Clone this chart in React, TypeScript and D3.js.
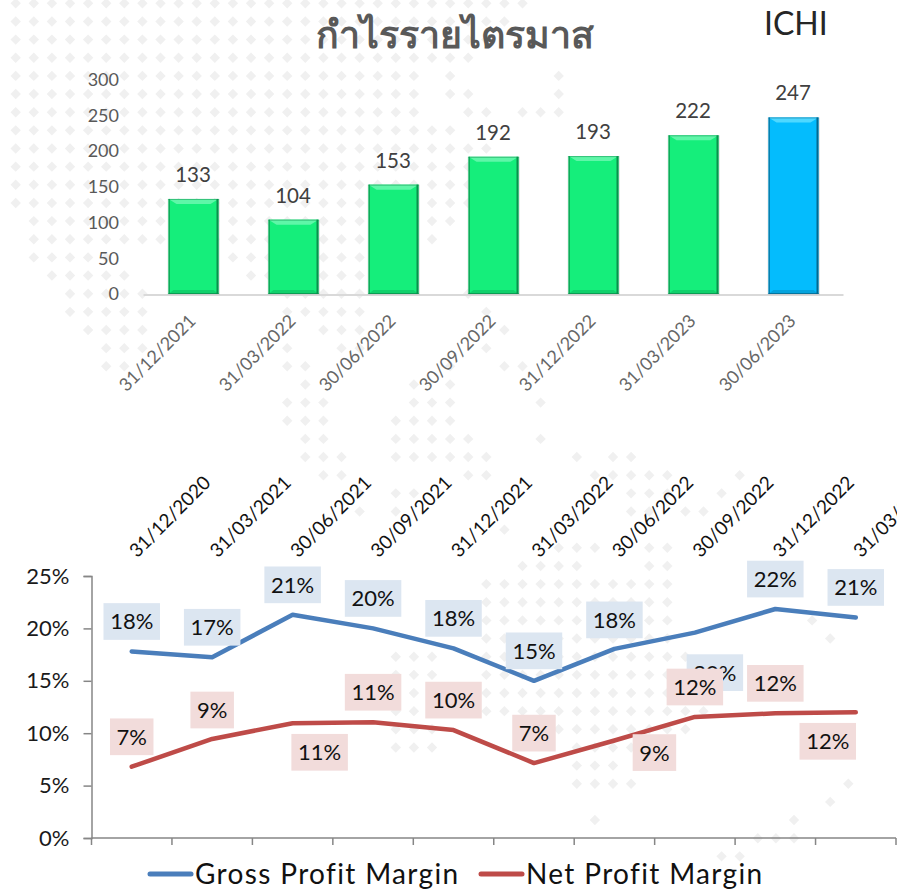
import * as d3 from "d3";
import { useEffect, useRef } from "react";

const quarters = ["31/12/2021", "31/03/2022", "30/06/2022", "30/09/2022", "31/12/2022", "31/03/2023", "30/06/2023"];
const profit = [133, 104, 153, 192, 193, 222, 247];

const marginDates = ["31/12/2020", "31/03/2021", "30/06/2021", "30/09/2021", "31/12/2021", "31/03/2022", "30/06/2022", "30/09/2022", "31/12/2022", "31/03/2023"];
const grossMargin = [17.8, 17.25, 21.3, 20.0, 18.1, 15.0, 18.05, 19.6, 21.85, 21.05];
const netMargin = [6.8, 9.45, 10.95, 11.05, 10.3, 7.15, 9.3, 11.55, 11.9, 12.0];

// hand-dragged data labels in the original, offset from their point
const grossLabelOffset = [[0, -30], [0, -30], [0, -30], [0, -30], [0, -30], [0, -30], [0, -29], [20, 40], [0, -30], [0, -30]];
const netLabelOffset = [[0, -30], [0, -29], [27, 29], [0, -30], [0, -30], [0, -30], [40, 12], [0, -30], [0, -30], [-28, 29]];

// background dot map: [row, first col, last col]
const dotRows = [
  [0, 0, 28], [1, 0, 27], [2, 0, 26], [3, 0, 25], [4, 0, 22], [4, 24, 24], [4, 30, 30],
  [5, 0, 22], [5, 24, 25], [5, 30, 30], [6, 0, 22], [6, 25, 26], [6, 28, 30],
  [7, 0, 24], [8, 0, 26], [9, 0, 26], [10, 0, 25], [11, 0, 25], [12, 1, 24], [13, 1, 23],
  [14, 1, 5], [14, 12, 19], [15, 2, 6], [15, 13, 19], [16, 3, 7], [16, 15, 19], [16, 25, 25],
  [17, 3, 7], [17, 15, 19], [17, 26, 26], [18, 4, 7], [18, 17, 19], [18, 27, 27],
  [19, 5, 7], [19, 15, 15], [19, 18, 19], [19, 26, 26], [20, 5, 6], [20, 15, 16], [20, 24, 24], [20, 27, 28],
  [21, 16, 16], [21, 22, 22], [21, 24, 24], [22, 15, 17], [22, 22, 24], [22, 29, 29],
  [23, 15, 17], [23, 21, 24], [24, 16, 17], [24, 21, 25], [24, 29, 29],
  [25, 16, 18], [25, 21, 26], [25, 31, 31], [25, 33, 34], [26, 17, 18], [26, 25, 26], [26, 32, 36], [26, 40, 40],
  [27, 19, 19], [27, 21, 22], [27, 34, 36], [27, 39, 39], [28, 19, 19], [28, 21, 21], [28, 34, 35], [28, 37, 38],
  [29, 27, 27], [30, 30, 32], [30, 35, 36], [31, 28, 31], [31, 35, 36],
  [32, 26, 36], [33, 26, 36], [34, 26, 36], [34, 44, 44], [35, 26, 36], [35, 45, 45], [36, 21, 23], [36, 26, 37],
  [37, 21, 23], [37, 26, 36], [38, 21, 23], [38, 26, 36], [39, 21, 23], [39, 26, 38], [40, 21, 23], [40, 29, 37],
  [41, 21, 23], [41, 31, 34], [42, 31, 33], [43, 31, 34], [43, 46, 46], [44, 45, 45], [45, 32, 32], [45, 43, 43],
  [46, 41, 43], [47, 39, 40],
];

const FONT = "Lato, 'Noto Sans', sans-serif";

function App() {
  const ref = useRef<SVGSVGElement>(null);

  useEffect(() => {
    const svg = d3.select(ref.current);
    svg.selectAll("*").remove();

    svg.append("clipPath").attr("id", "page").append("rect").attr("width", 897).attr("height", 890);
    const page = svg.append("g").attr("clip-path", "url(#page)").style("font-family", FONT);

    // dot map
    const dots = page.append("g").attr("fill", "#f0f0f0");
    dotRows.forEach(([row, from, to]) => {
      d3.range(from, to + 1).forEach(col => {
        const cx = 15.7 + 18.1 * col;
        const cy = 3.3 + 18.15 * row;
        dots.append("path").attr("d", `M${cx - 5.2},${cy}L${cx},${cy - 5.2}L${cx + 5.2},${cy}L${cx},${cy + 5.2}Z`);
      });
    });

    // ---- quarterly profit bars
    const x = d3.scaleBand().domain(quarters).range([143, 843]).paddingInner(0.5).paddingOuter(0.25);
    const y = d3.scaleLinear().domain([0, 300]).range([294, 79.6]);

    const yAxis = page.append("g").attr("transform", "translate(126,0)")
      .call(d3.axisLeft(y).tickValues(d3.range(0, 301, 50)).tickSize(0).tickPadding(7));
    yAxis.select(".domain").remove();
    yAxis.selectAll("text").style("font-family", FONT).style("font-size", "18px").attr("fill", "#595959");

    const xAxis = page.append("g").attr("transform", "translate(0,294.5)")
      .call(d3.axisBottom(x).tickSize(0).tickSizeOuter(0).tickFormat(() => ""));
    xAxis.select(".domain").attr("stroke", "#d9d9d9").attr("stroke-width", 2);

    const bars = page.append("g");
    quarters.forEach((q, i) => {
      const x0 = (x(q) as number) + 0.5;
      const x1 = x0 + x.bandwidth();
      const y0 = y(profit[i]);
      const y1 = y(0);
      const latest = i === quarters.length - 1;
      const main = latest ? "#04bcfd" : "#15ee7b";
      const light = latest ? "#4ed8ff" : "#5ff6a8";
      const dark = latest ? "#05688f" : "#0b8f4d";
      const mid = latest ? "#05a3dd" : "#11d16c";
      const poly = (pts: number[][], fill: string) =>
        bars.append("polygon").attr("points", pts.join(" ")).attr("fill", fill);
      const b = 5;
      bars.append("rect").attr("x", x0 - 1).attr("y", y0).attr("width", x1 - x0 + 2.5).attr("height", y1 - y0 + 1).attr("fill", "#bdbdbd").attr("opacity", 0.35);
      bars.append("rect").attr("x", x0).attr("y", y0).attr("width", x1 - x0).attr("height", y1 - y0).attr("fill", main);
      poly([[x0, y0], [x1, y0], [x1 - b - 3, y0 + b], [x0 + b + 3, y0 + b]], light);
      poly([[x0, y1], [x1, y1], [x1 - b, y1 - 4], [x0 + b, y1 - 4]], mid);
      bars.append("rect").attr("x", x0).attr("y", y0).attr("width", 1.5).attr("height", y1 - y0).attr("fill", dark).attr("opacity", 0.7);
      bars.append("rect").attr("x", x1 - 2).attr("y", y0).attr("width", 2).attr("height", y1 - y0).attr("fill", dark);
      bars.append("rect").attr("x", x0).attr("y", y1 - 1).attr("width", x1 - x0).attr("height", 1).attr("fill", dark).attr("opacity", 0.8);
      bars.append("rect").attr("x", x0).attr("y", y0).attr("width", x1 - x0).attr("height", 1).attr("fill", dark).attr("opacity", 0.5);
    });

    page.append("g").selectAll("text").data(profit).enter().append("text")
      .attr("x", (_, i) => (x(quarters[i]) as number) + x.bandwidth() / 2)
      .attr("y", d => y(d) - 17)
      .attr("text-anchor", "middle")
      .attr("fill", "#404040")
      .style("font-size", "20.5px")
      .text(d => d);

    page.append("g").selectAll("text").data(quarters).enter().append("text")
      .attr("transform", d => `translate(${(x(d) as number) + x.bandwidth() / 2 + 4},322) rotate(-45)`)
      .attr("text-anchor", "end")
      .attr("fill", "#666")
      .style("font-size", "18px")
      .text(d => d);

    page.append("text")
      .attr("x", 455).attr("y", 48)
      .attr("text-anchor", "middle")
      .attr("fill", "#595959")
      .style("font-weight", "bold").style("font-size", "37.5px")
      .text("กำไรรายไตรมาส");

    page.append("text")
      .attr("x", 764).attr("y", 35)
      .attr("fill", "#262626")
      .style("font-size", "32px")
      .text("ICHI");

    // ---- margin lines
    const mx = d3.scaleBand().domain(marginDates).range([91.5, 896]);
    const my = d3.scaleLinear().domain([0, 25]).range([838, 576]);
    const px = (i: number) => (mx(marginDates[i]) as number) + mx.bandwidth() / 2;

    const myAxis = page.append("g").attr("transform", "translate(91.5,0)")
      .call(d3.axisLeft(my).tickValues(d3.range(0, 26, 5)).tickSizeOuter(0).tickSize(8).tickPadding(14).tickFormat(d => `${d}%`));
    myAxis.select(".domain").attr("stroke", "#868686").attr("stroke-width", 1.5);
    myAxis.selectAll("line").attr("stroke", "#868686").attr("stroke-width", 1.5);
    myAxis.selectAll("text").style("font-family", FONT).style("font-size", "22px").attr("fill", "#1a1a1a");

    const mxAxis = page.append("g").attr("transform", "translate(0,838)");
    mxAxis.append("line").attr("x1", 91.5).attr("x2", 896).attr("stroke", "#868686").attr("stroke-width", 1.5);
    mxAxis.selectAll(".tk").data(d3.range(0, marginDates.length + 1)).enter().append("line")
      .attr("class", "tk")
      .attr("x1", i => mx.range()[0] + i * mx.step()).attr("x2", i => mx.range()[0] + i * mx.step())
      .attr("y1", 0).attr("y2", 7)
      .attr("stroke", "#868686").attr("stroke-width", 1.5);

    page.append("g").selectAll("text").data(marginDates).enter().append("text")
      .attr("transform", (_, i) => `translate(${px(i) + 80},484) rotate(-45)`)
      .attr("text-anchor", "end")
      .attr("fill", "#111")
      .style("font-size", "19px")
      .text(d => d);

    const line = d3.line<number>().x((_, i) => px(i)).y(d => my(d));
    const drawLine = (values: number[], color: string) =>
      page.append("path").attr("d", line(values)).attr("fill", "none")
        .attr("stroke", color).attr("stroke-width", 4.5).attr("stroke-linecap", "round").attr("stroke-linejoin", "round");
    drawLine(grossMargin, "#4a7ebb");
    drawLine(netMargin, "#be4b48");

    const drawLabels = (values: number[], offsets: number[][], fill: string) => {
      values.forEach((v, i) => {
        const text = `${Math.round(v)}%`;
        const w = text.length > 2 ? 56.5 : 43.5;
        const cx = px(i) + offsets[i][0];
        const cy = my(v) + offsets[i][1];
        page.append("rect").attr("x", cx - w / 2).attr("y", cy - 18.3).attr("width", w).attr("height", 36.7).attr("fill", fill);
        page.append("text").attr("x", cx).attr("y", cy + 8)
          .attr("text-anchor", "middle").attr("fill", "#111").style("font-size", "22px").text(text);
      });
    };
    drawLabels(grossMargin, grossLabelOffset, "#dce6f1");
    drawLabels(netMargin, netLabelOffset, "#f2dcdb");

    // legend
    const legend = [
      { name: "Gross Profit Margin", color: "#4a7ebb", x: 148 },
      { name: "Net Profit Margin", color: "#be4b48", x: 479 },
    ];
    legend.forEach(l => {
      page.append("line").attr("x1", l.x + 2).attr("x2", l.x + 43).attr("y1", 874).attr("y2", 874)
        .attr("stroke", l.color).attr("stroke-width", 5).attr("stroke-linecap", "round");
      page.append("text").attr("x", l.x + 47).attr("y", 884).attr("fill", "#111")
        .style("font-size", "28px").style("letter-spacing", "1.35px").text(l.name);
    });
  }, []);

  return <svg ref={ref} width={915} height={890} style={{ position: "absolute", left: 0, top: 0, background: "#fff" }} />;
}

export default App;
